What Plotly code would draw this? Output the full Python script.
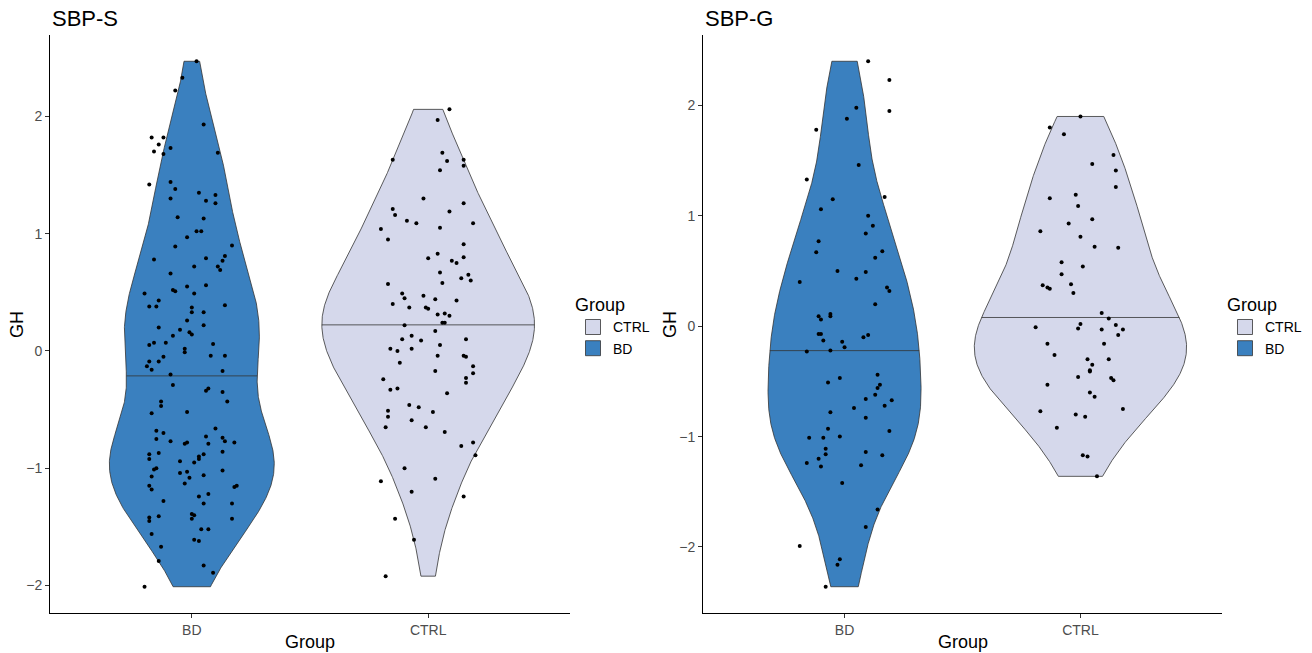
import numpy as np
import plotly.graph_objects as go

# ---------------- data ----------------
categories = ["BD", "CTRL"]
legend_order = ["CTRL", "BD"]
panel_titles = ["SBP-S", "SBP-G"]
y_ticks = [-2, -1, 0, 1, 2]
group_colors = {"BD": "#3A80BF", "CTRL": "#D5D8EB"}

# SBP-S panel, BD group: GH values and horizontal jitter (category units)
sbps_bd_gh = [2.47, 2.33, 2.22, 1.93, 1.82, 1.82, 1.76, 1.70, 1.68, 1.73, 1.69, 1.42, 1.44, 1.38, 1.30,
              1.35, 1.33, 1.28, 1.26, 1.14, 1.13, 1.02, 1.02, 0.97, 0.89, 0.90, 0.78, 0.79, 0.81, 0.77,
              0.72, 0.69, 0.72, 0.66, 0.52, 0.51, 0.55, 0.56, 0.49, 0.49, 0.43, 0.38, 0.38, 0.39, 0.37,
              0.33, 0.33, 0.26, 0.22, 0.20, 0.18, 0.16, 0.14, 0.13, 0.07, 0.05, 0.07, 0.06, 0.02, -0.01,
              -0.04, -0.04, -0.05, -0.09, -0.09, -0.13, -0.16, -0.17, -0.20, -0.29, -0.34, -0.32, -0.35,
              -0.43, -0.43, -0.47, -0.53, -0.52, -0.66, -0.68, -0.70, -0.75, -0.77, -0.79, -0.78, -0.73,
              -0.79, -0.74, -0.77, -0.78, -0.88, -0.92, -0.87, -0.94, -0.95, -0.90, -0.92, -0.88, -0.86,
              -1.01, -1.00, -1.07, -1.04, -1.03, -1.08, -1.06, -1.02, -1.13, -1.15, -1.18, -1.16, -1.15,
              -1.28, -1.24, -1.22, -1.30, -1.30, -1.42, -1.45, -1.41, -1.39, -1.40, -1.43, -1.43, -1.56,
              -1.52, -1.52, -1.61, -1.62, -1.67, -1.79, -1.83, -1.89, -2.01]
sbps_bd_jitter = [0.02, -0.04, -0.07, 0.05, -0.17, -0.12, -0.14, -0.16, -0.12, -0.09, 0.11, -0.18, -0.09,
                  -0.07, -0.09, 0.03, 0.10, 0.06, 0.10, -0.06, 0.05, 0.02, 0.04, -0.02, -0.07, 0.17, -0.16,
                  0.06, 0.14, 0.13, 0.11, 0.12, 0.01, -0.09, -0.08, -0.07, -0.02, 0.06, 0.01, -0.20, -0.14,
                  -0.18, -0.15, 0.14, 0.00, 0.00, 0.05, -0.02, 0.05, -0.14, -0.05, -0.01, 0.00, -0.08, -0.16,
                  -0.18, -0.11, 0.09, -0.03, -0.03, 0.08, 0.14, -0.12, -0.14, -0.18, -0.19, -0.17, 0.13,
                  -0.09, -0.08, 0.06, 0.07, 0.13, 0.15, -0.13, -0.13, -0.17, -0.02, 0.10, -0.15, -0.12,
                  -0.15, -0.09, -0.03, -0.02, 0.06, 0.07, 0.13, 0.14, 0.18, -0.18, -0.18, -0.14, -0.05,
                  0.01, 0.03, 0.03, 0.05, 0.13, -0.16, -0.15, -0.17, -0.05, -0.02, -0.01, 0.05, 0.13, -0.03,
                  -0.18, -0.17, 0.18, 0.19, -0.12, 0.03, 0.07, 0.05, 0.17, -0.18, -0.18, -0.14, 0.00, 0.01,
                  0.00, 0.17, -0.17, 0.04, 0.07, 0.01, 0.03, -0.13, -0.14, 0.05, 0.09, -0.20]

# SBP-S panel, CTRL group
sbps_ctrl_gh = [2.06, 1.97, 1.69, 1.62, 1.63, 1.63, 1.58, 1.54, 1.30, 1.26, 1.19, 1.21, 1.16, 1.11, 1.09,
                1.09, 1.04, 1.05, 0.95, 0.91, 0.83, 0.79, 0.77, 0.75, 0.80, 0.67, 0.65, 0.62, 0.60, 0.58,
                0.57, 0.49, 0.45, 0.47, 0.44, 0.43, 0.40, 0.37, 0.37, 0.36, 0.31, 0.32, 0.30, 0.24, 0.24,
                0.22, 0.17, 0.13, 0.10, 0.09, 0.10, 0.05, 0.02, 0.00, 0.02, -0.04, -0.04, -0.05, -0.10,
                -0.13, -0.19, -0.17, -0.23, -0.27, -0.24, -0.33, -0.32, -0.36, -0.46, -0.48, -0.51, -0.56,
                -0.52, -0.59, -0.65, -0.65, -0.69, -0.81, -0.78, -0.89, -1.00, -1.11, -1.09, -1.20, -1.24,
                -1.43, -1.61, -1.92]
sbps_ctrl_jitter = [0.09, 0.04, 0.06, 0.08, -0.15, 0.15, 0.15, 0.05, -0.02, 0.15, 0.09, -0.15, -0.14, -0.09,
                    -0.05, 0.19, -0.20, 0.05, -0.17, 0.15, 0.04, 0.00, 0.10, 0.12, 0.15, 0.05, 0.17, 0.14,
                    0.18, 0.06, -0.17, -0.11, -0.10, -0.02, 0.03, 0.12, -0.15, -0.08, -0.01, 0.00, 0.04,
                    0.07, 0.09, 0.06, 0.07, -0.10, 0.03, -0.07, -0.11, -0.03, 0.16, 0.05, -0.16, -0.13,
                    -0.07, 0.04, 0.15, 0.16, -0.12, 0.19, 0.19, 0.03, 0.16, 0.16, -0.19, -0.16, -0.13, 0.08,
                    -0.08, -0.04, -0.17, -0.17, 0.02, -0.07, -0.18, -0.01, 0.07, 0.14, 0.19, 0.20, -0.10,
                    -0.20, 0.03, -0.07, 0.15, -0.14, -0.06, -0.18]

# SBP-G panel, BD group
sbpg_bd_gh = [2.40, 2.23, 1.98, 1.95, 1.88, 1.78, 1.46, 1.33, 1.17, 1.15, 1.06, 1.00, 0.91, 0.84, 0.77,
              0.67, 0.68, 0.62, 0.50, 0.49, 0.43, 0.40, 0.35, 0.32, 0.20, 0.09, 0.06, 0.11, 0.09, -0.07,
              -0.07, -0.13, -0.14, -0.19, -0.10, -0.08, -0.23, -0.22, -0.44, -0.47, -0.51, -0.53, -0.56,
              -0.62, -0.66, -0.67, -0.72, -0.74, -0.78, -0.83, -0.93, -0.95, -1.01, -1.01, -1.00, -1.11,
              -1.16, -1.20, -1.24, -1.27, -1.14, -1.17, -1.26, -1.42, -1.66, -1.82, -1.99, -2.11, -2.16,
              -2.36]
sbpg_bd_jitter = [0.10, 0.19, 0.05, 0.19, 0.01, -0.12, 0.06, -0.16, 0.17, -0.05, -0.10, 0.10, 0.12, 0.09,
                  -0.11, -0.12, 0.16, 0.13, -0.03, 0.09, 0.05, -0.19, 0.18, 0.19, 0.13, -0.11, -0.10, -0.06,
                  -0.06, -0.11, -0.10, -0.09, -0.01, 0.00, 0.08, 0.10, -0.16, -0.06, 0.14, -0.02, -0.07,
                  0.15, 0.14, 0.13, 0.09, 0.20, 0.17, 0.04, -0.06, 0.09, -0.07, 0.19, -0.15, -0.09, -0.02,
                  -0.08, -0.08, -0.11, -0.16, -0.10, 0.09, 0.16, 0.07, -0.01, 0.14, 0.09, -0.19, -0.02,
                  -0.03, -0.08]

# SBP-G panel, CTRL group
sbpg_ctrl_gh = [1.90, 1.80, 1.74, 1.55, 1.47, 1.41, 1.26, 1.16, 1.19, 1.09, 0.97, 0.93, 0.86, 0.81, 0.72,
                0.71, 0.58, 0.54, 0.47, 0.37, 0.35, 0.34, 0.38, 0.30, 0.12, 0.07, -0.01, 0.02, -0.02, -0.03,
                0.01, -0.03, -0.08, -0.16, -0.16, -0.26, -0.30, -0.30, -0.35, -0.40, -0.41, -0.46, -0.47,
                -0.49, -0.53, -0.60, -0.64, -0.77, -0.80, -0.82, -0.75, -0.92, -1.17, -1.18, -1.36]
sbpg_ctrl_jitter = [0.00, -0.13, -0.07, 0.14, 0.05, 0.15, 0.15, -0.13, -0.02, -0.01, 0.05, -0.05, -0.17,
                    0.00, 0.06, 0.16, -0.08, 0.01, -0.08, -0.16, -0.14, -0.13, -0.04, -0.03, 0.09, 0.12,
                    -0.19, 0.00, -0.01, 0.09, 0.15, 0.18, 0.16, -0.14, 0.10, -0.11, 0.03, 0.12, 0.05, 0.04,
                    0.04, -0.01, 0.13, 0.14, -0.14, 0.04, 0.06, -0.17, -0.02, 0.02, 0.18, -0.10, 0.01, 0.03,
                    0.07]

panels = [
    {"BD": (sbps_bd_gh, sbps_bd_jitter), "CTRL": (sbps_ctrl_gh, sbps_ctrl_jitter)},
    {"BD": (sbpg_bd_gh, sbpg_bd_jitter), "CTRL": (sbpg_ctrl_gh, sbpg_ctrl_jitter)},
]

# ---------------- statistics (ggplot2 geom_violin defaults) ----------------
def bw_nrd0(x):
    sd = np.std(x, ddof=1)
    q75, q25 = np.percentile(x, [75, 25])
    lo = min(sd, (q75 - q25) / 1.34)
    return 0.9 * lo * len(x) ** -0.2


def density(x, n=512):
    x = np.asarray(x, float)
    grid = np.linspace(x.min(), x.max(), n)
    bw = bw_nrd0(x)
    d = np.exp(-0.5 * ((grid[:, None] - x[None, :]) / bw) ** 2).sum(1) / (len(x) * bw * np.sqrt(2 * np.pi))
    return grid, d


# ---------------- figure ----------------
W, H = 1312, 653
px = lambda v: v / W
py = lambda v: 1 - v / H

x_domains = [[px(50), px(570)], [px(703), px(1222)]]
y_domain = [py(613), py(35)]

fig = go.Figure()
annotations = []
font_family = "Liberation Sans, Arial, sans-serif"

for p, data in enumerate(panels):
    xa = "x" if p == 0 else "x2"
    ya = "y" if p == 0 else "y2"
    leg = "legend" if p == 0 else "legend2"
    dens = {g: density(data[g][0]) for g in categories}
    dmax = max(d.max() for _, d in dens.values())
    for i, g in enumerate(categories):
        pos = i + 1
        grid, d = dens[g]
        half = 0.45 * d / dmax
        xs = np.concatenate([pos - half, (pos + half)[::-1], [pos - half[0]]])
        ys = np.concatenate([grid, grid[::-1], [grid[0]]])
        fig.add_trace(go.Scatter(x=xs, y=ys, mode="lines", fill="toself", fillcolor=group_colors[g],
                                 line=dict(color="#333333", width=0.8), hoverinfo="skip",
                                 showlegend=False, xaxis=xa, yaxis=ya))
        # median from the density estimate (draw_quantiles = 0.5)
        cdf = np.cumsum(d) / d.sum()
        ymed = np.interp(0.5, cdf, grid)
        hmed = 0.45 * np.interp(ymed, grid, d) / dmax
        fig.add_trace(go.Scatter(x=[pos - hmed, pos + hmed], y=[ymed, ymed], mode="lines",
                                 line=dict(color="#333333", width=0.8), hoverinfo="skip",
                                 showlegend=False, xaxis=xa, yaxis=ya))
    for i, g in enumerate(categories):
        vals, jit = data[g]
        fig.add_trace(go.Scatter(x=[i + 1 + j for j in jit], y=vals, mode="markers",
                                 marker=dict(color="black", size=4), showlegend=False,
                                 xaxis=xa, yaxis=ya, name=g))
    # legend entries
    for g in legend_order:
        fig.add_trace(go.Scatter(x=[None], y=[None], mode="markers", name=g, legend=leg,
                                 marker=dict(symbol="square", size=15, color=group_colors[g],
                                             line=dict(color="#333333", width=0.8)),
                                 xaxis=xa, yaxis=ya, showlegend=True))
    allv = np.concatenate([np.asarray(data[g][0]) for g in categories])
    lo, hi = allv.min(), allv.max()
    pad = 0.05 * (hi - lo)
    axis_common = dict(showline=True, linecolor="black", linewidth=1, ticks="outside", ticklen=4,
                       tickcolor="#333333", tickwidth=1, showgrid=False, zeroline=False,
                       tickfont=dict(size=14, color="#4D4D4D", family=font_family), automargin=False)
    fig.update_layout(**{
        ("xaxis" if p == 0 else "xaxis2"): dict(domain=x_domains[p], range=[0.4, 2.6], tickvals=[1, 2],
                                                ticktext=categories, anchor=ya, **axis_common),
        ("yaxis" if p == 0 else "yaxis2"): dict(domain=y_domain, range=[lo - pad, hi + pad],
                                                tickvals=y_ticks, ticktext=[str(t).replace("-", "\u2212") for t in y_ticks],
                                                anchor=xa, **axis_common),
    })
    x0 = x_domains[p][0]
    annotations += [
        dict(text=panel_titles[p], x=x0, y=py(18), xref="paper", yref="paper", xanchor="left",
             yanchor="middle", showarrow=False, font=dict(size=22, color="black", family=font_family)),
        dict(text="Group", x=(x_domains[p][0] + x_domains[p][1]) / 2, y=py(642), xref="paper", yref="paper",
             xanchor="center", yanchor="middle", showarrow=False,
             font=dict(size=18, color="black", family=font_family)),
        dict(text="GH", x=x0 - px(33), y=(y_domain[0] + y_domain[1]) / 2, xref="paper", yref="paper",
             xanchor="center", yanchor="middle", textangle=-90, showarrow=False,
             font=dict(size=18, color="black", family=font_family)),
    ]

legend_common = dict(xanchor="left", yanchor="top", bgcolor="rgba(0,0,0,0)",
                     font=dict(size=14, color="black", family=font_family),
                     title=dict(text="Group", font=dict(size=18, color="black", family=font_family)),
                     itemsizing="trace", tracegroupgap=0)
fig.update_layout(
    width=W, height=H, margin=dict(l=0, r=0, t=0, b=0),
    paper_bgcolor="white", plot_bgcolor="white", template="none",
    legend=dict(x=px(573), y=py(288), **legend_common),
    legend2=dict(x=px(1225), y=py(288), **legend_common),
    annotations=annotations, showlegend=True,
)

fig.write_html("out.html", config={"displayModeBar": False},
               post_script="document.body.style.margin='0';")
